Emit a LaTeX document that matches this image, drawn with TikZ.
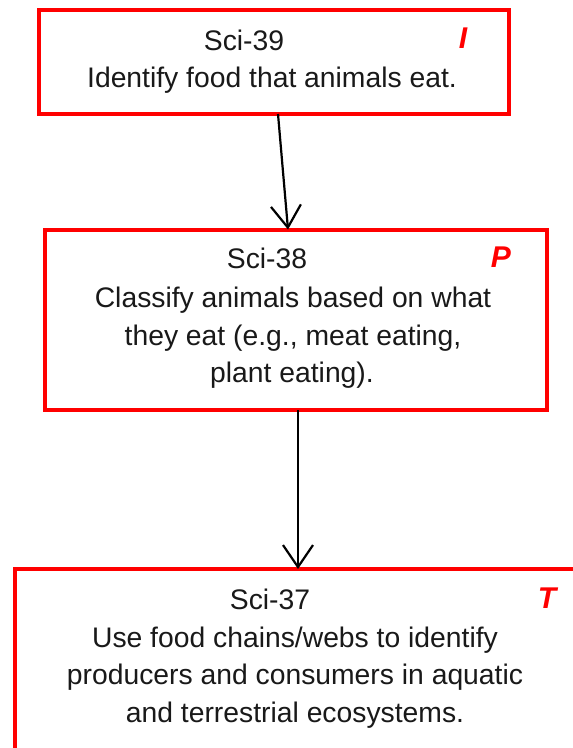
\documentclass[tikz,border=0pt]{standalone}
\usepackage{fontspec}
\setmainfont{Liberation Sans}
\usetikzlibrary{arrows.meta,calc}
\begin{document}
\begin{tikzpicture}[x=1pt,y=-1pt,
  box/.style={draw=red, line width=4pt, rectangle, inner sep=0pt, outer sep=0pt},
  txt/.style={anchor=base, font=\fontsize{28.3}{32}\selectfont, text=black!90, inner sep=0pt},
  tag/.style={anchor=base, font=\fontsize{30}{34}\selectfont\bfseries\itshape, text=red, inner sep=0pt},
  arr/.style={line width=2.2pt, -{Straight Barb[length=22pt, width=30pt, line width=2.2pt]}}]
\useasboundingbox (0,0) rectangle (573,748);
\clip (0,0) rectangle (573,748);
\fill[white] (0,0) rectangle (573,748);

% boxes
\node[box, minimum width=470pt, minimum height=104pt] (b1) at (273.5,62) {};
\node[box, minimum width=501.5pt, minimum height=180.5pt] (b2) at (295.75,319.75) {};
\node[box, minimum width=562pt, minimum height=222pt] (b3) at (296,680) {};

% box 1 text
\node[txt] (t1a) at (244,50) {Sci-39};
\node[txt] (t1b) at (272,87.5) {Identify food that animals eat.};
\node[tag] (g1) at (463,48) {I};

% box 2 text
\node[txt] (t2a) at (267,268) {Sci-38};
\node[txt] (t2b) at (293,307) {Classify animals based on what};
\node[txt] (t2c) at (293,345) {they eat (e.g., meat eating,};
\node[txt] (t2d) at (292,382) {plant eating).};
\node[tag] (g2) at (501,267) {P};

% box 3 text
\node[txt] (t3a) at (270,609) {Sci-37};
\node[txt] (t3b) at (295,647) {Use food chains/webs to identify};
\node[txt] (t3c) at (295,684) {producers and consumers in aquatic};
\node[txt] (t3d) at (295,722) {and terrestrial ecosystems.};
\node[tag] (g3) at (547,608) {T};

% arrows
\draw[arr] ($(b1.south west)+(239.5,0)$) -- ($(b2.north west)+(243,0)$);
\draw[arr] ($(b2.south west)+(253,0)$) -- ($(b3.north west)+(283,0)$);
\end{tikzpicture}
\end{document}
